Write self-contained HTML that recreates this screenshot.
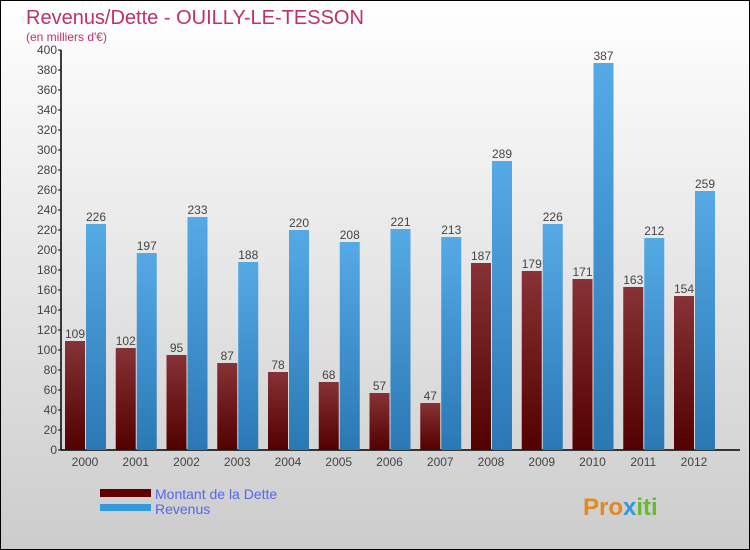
<!DOCTYPE html>
<html><head><meta charset="utf-8"><style>
body{margin:0}
svg{display:block;font-family:"Liberation Sans",sans-serif}
</style></head><body>
<svg width="750" height="550" id="c">
<defs>
<linearGradient id="bg" x1="0" y1="0" x2="0" y2="1"><stop offset="0" stop-color="#ffffff"/><stop offset="1" stop-color="#cccccc"/></linearGradient>
<linearGradient id="gd" x1="0" y1="0" x2="0" y2="1"><stop offset="0" stop-color="#873236"/><stop offset="1" stop-color="#530000"/></linearGradient>
<linearGradient id="gr" x1="0" y1="0" x2="0" y2="1"><stop offset="0" stop-color="#55aae6"/><stop offset="1" stop-color="#2a78b4"/></linearGradient>
</defs>
<rect x="0.5" y="0.5" width="749" height="549" fill="url(#bg)" stroke="#000"/>
<text x="26" y="24" font-size="20" fill="#c0306a">Revenus/Dette - OUILLY-LE-TESSON</text>
<text x="26" y="41" font-size="12" fill="#c0306a">(en milliers d'€)</text>
<g id="axes"></g>
<g id="bars"></g>
<rect x="100" y="489" width="51" height="8" fill="#600000"/>
<text x="155" y="499" font-size="14" fill="#5566ee">Montant de la Dette</text>
<rect x="100" y="504" width="51" height="7" fill="#3399dd"/>
<text x="155" y="514" font-size="14" fill="#5566ee">Revenus</text>
<text x="583" y="515" font-size="24" font-weight="bold" fill="#e08a20">Pro<tspan fill="#3399dd">x</tspan><tspan fill="#66bb33">iti</tspan></text>
</svg>
<script>
const years=["2000","2001","2002","2003","2004","2005","2006","2007","2008","2009","2010","2011","2012"];
const dette=[109,102,95,87,78,68,57,47,187,179,171,163,154];
const revenus=[226,197,233,188,220,208,221,213,289,226,387,212,259];
const yTicks=[0,20,40,60,80,100,120,140,160,180,200,220,240,260,280,300,320,340,360,380,400];
const NS="http://www.w3.org/2000/svg";
const y0=450,yScale=1.0,x0=85,step=50.75;
function Y(v){return y0-v*yScale;}
function X(i){return x0+i*step;}
function mk(t,a,p,txt){const e=document.createElementNS(NS,t);for(const k in a)e.setAttribute(k,a[k]);if(txt!==undefined)e.textContent=txt;p.appendChild(e);return e;}
const ax=document.getElementById('axes'),bg=document.getElementById('bars');
let l=mk('line',{x1:61,y1:50,x2:61,y2:450,stroke:'#000','stroke-width':1.5},ax);


l=mk('line',{x1:61,y1:450,x2:740,y2:450,stroke:'#000','stroke-width':1.5},ax);


yTicks.forEach(v=>{
 const t=mk('line',{x1:58,y1:Y(v),x2:61,y2:Y(v),stroke:'#000'},ax);
 
 
 const tx=mk('text',{x:57,y:Y(v)+4,'font-size':12,fill:'#444','text-anchor':'end'},ax,String(v));
 
 
});
years.forEach((yr,i)=>{
 const cx=X(i);
 const t=mk('text',{x:cx,y:466,'font-size':12,fill:'#444','text-anchor':'middle'},ax,yr);
 
 
 const d=mk('rect',{x:cx-20,y:Y(dette[i]),width:20,height:dette[i]*yScale,fill:'url(#gd)'},bg);
 
 
 const r=mk('rect',{x:cx+1,y:Y(revenus[i]),width:20,height:revenus[i]*yScale,fill:'url(#gr)'},bg);
 
 
 const dl=mk('text',{x:cx-10,y:Y(dette[i])-3,'font-size':12,fill:'#444','text-anchor':'middle'},bg,String(dette[i]));
 
 
 const rl=mk('text',{x:cx+11,y:Y(revenus[i])-3,'font-size':12,fill:'#444','text-anchor':'middle'},bg,String(revenus[i]));
 
 
});
</script>
</body></html>
